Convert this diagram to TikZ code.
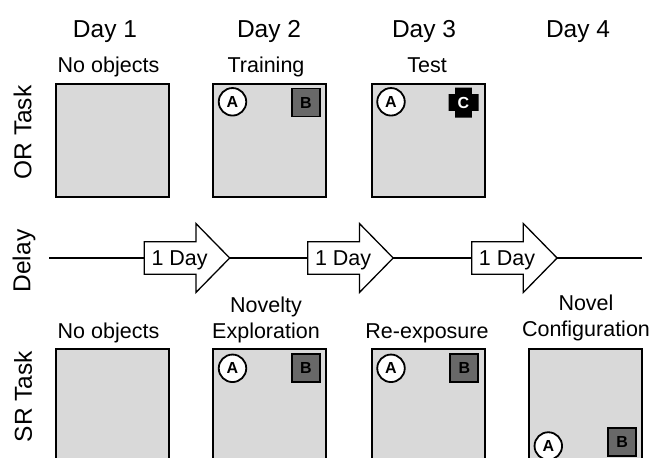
\documentclass[tikz,border=0pt]{standalone}
\usepackage{fontspec}
\setmainfont{Liberation Sans}
\definecolor{arenagrey}{HTML}{D9D9D9}
\definecolor{objgrey}{HTML}{686868}
\begin{document}
\begin{tikzpicture}[x=1pt,y=-1pt,
  boxst/.style={draw=black, line width=2pt, fill=arenagrey, minimum width=113pt, minimum height=113pt, anchor=north west, inner sep=0pt},
  objA/.style={circle, draw=black, line width=1.8pt, fill=white, minimum size=27.5pt, inner sep=0pt, font=\bfseries\fontsize{16}{16}\selectfont},
  objB/.style={rectangle, draw=black, line width=1.8pt, fill=objgrey, minimum size=28pt, inner sep=0pt, font=\bfseries\fontsize{16}{16}\selectfont},
  objC/.style={inner sep=0pt, text=white, font=\bfseries\fontsize{16}{16}\selectfont},
  dayst/.style={anchor=base, inner sep=0pt, font=\fontsize{24.5}{29}\selectfont},
  subst/.style={anchor=base, inner sep=0pt, align=center, font=\fontsize{21.5}{26}\selectfont},
  rowst/.style={rotate=90, inner sep=0pt, font=\fontsize{24.5}{29}\selectfont},
  arrowst/.style={draw=black, line width=1.3pt, fill=white, line join=miter},
  linest/.style={draw=black, line width=2pt}
]
\useasboundingbox (0,0) rectangle (649,458);
\clip (0,0) rectangle (649,458);

% Day headers
\node[dayst] (day1) at (105,37) {Day 1};
\node[dayst] (day2) at (269,37) {Day 2};
\node[dayst] (day3) at (424,37) {Day 3};
\node[dayst] (day4) at (578,37) {Day 4};

% Row labels
\node[rowst] (orlab) at (22.5,132.5) {OR Task};
\node[rowst] (delaylab) at (24,261) {Delay};
\node[rowst] (srlab) at (23,396.5) {SR Task};

% OR task
\node[subst] (or1t) at (108.5,72.7) {No objects};
\node[subst] (or2t) at (266,72.7) {Training};
\node[subst] (or3t) at (427,72.7) {Test};
\node[boxst] (or1) at (54.5,82.5) {};
\node[boxst] (or2) at (212.3,82.5) {};
\node[boxst] (or3) at (370.7,82.5) {};
\node[objA] (or2a) at (232.5,101.8) {A};
\node[objB] (or2b) at (305.8,102.5) {B};
\node[objA] (or3a) at (391,101.8) {A};
\fill[black] (463.5,102.5) ++(-8.3,-15) -- ++(16.6,0) -- ++(0,6.7) -- ++(6.7,0) -- ++(0,16.6) -- ++(-6.7,0) -- ++(0,6.7) -- ++(-16.6,0) -- ++(0,-6.7) -- ++(-6.7,0) -- ++(0,-16.6) -- ++(6.7,0) -- cycle;
\node[objC] (or3c) at (463.5,102.5) {C};

% Delay line and arrows
\coordinate (ls) at (49,258);
\coordinate (le) at (642,258);
\draw[linest] (ls) -- (le);
\foreach \x/\n in {144.3/d1, 307.8/d2, 471.7/d3}{
  \draw[arrowst] (\x,241.8) -- (\x+51.6,241.8) -- (\x+51.6,223.5) -- (\x+85.4,258) -- (\x+51.6,292.5) -- (\x+51.6,274.2) -- (\x,274.2) -- cycle;
  \node[subst, anchor=base west] (\n) at (\x+7,265.5) {1 Day};
}

% SR task
\node[subst] (sr1t) at (108.5,338.3) {No objects};
\node[subst] (sr2t) at (266,338.3) {Novelty\\Exploration};
\node[subst] (sr3t) at (427,338.3) {Re-exposure};
\node[subst] (sr4t) at (586,336.5) {Novel\\Configuration};
\node[boxst] (sr1) at (54.5,347.7) {};
\node[boxst] (sr2) at (212.3,347.7) {};
\node[boxst] (sr3) at (370.7,347.7) {};
\node[boxst] (sr4) at (528.3,347.7) {};
\node[objA] (sr2a) at (232.5,368.3) {A};
\node[objB] (sr2b) at (305.8,368.3) {B};
\node[objA] (sr3a) at (391,368.3) {A};
\node[objB] (sr3b) at (464.3,368.3) {B};
\node[objA] (sr4a) at (548.3,446) {A};
\node[objB] (sr4b) at (622.2,442.2) {B};
\end{tikzpicture}
\end{document}
